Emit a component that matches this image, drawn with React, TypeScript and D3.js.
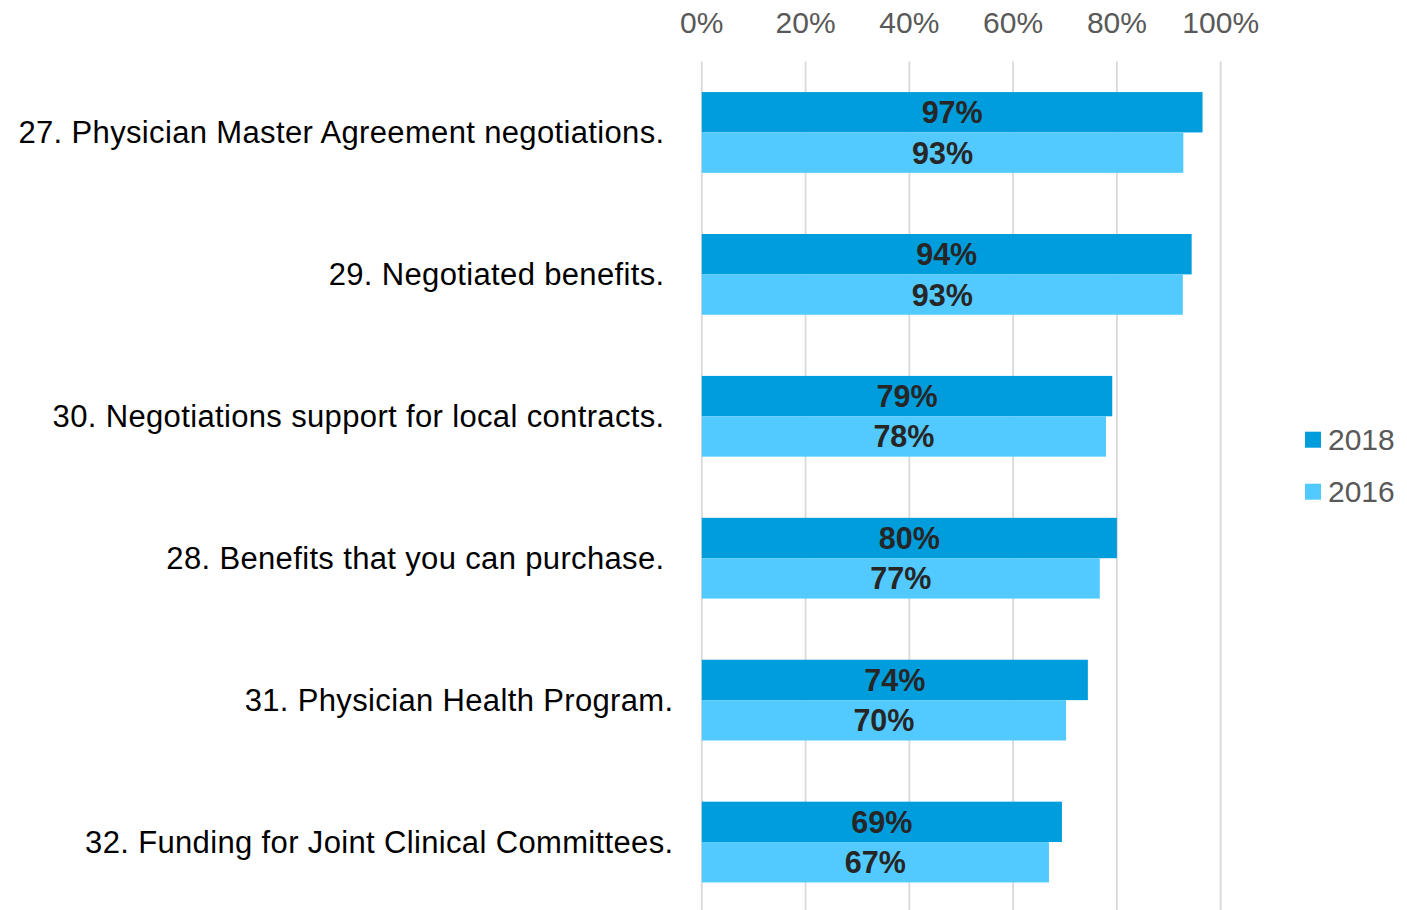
import React from "react";
import * as d3 from "d3";

// ---- data ----
const categories: string[] = [
  "27. Physician Master Agreement negotiations. ",
  "29. Negotiated benefits. ",
  "30. Negotiations support for local contracts. ",
  "28. Benefits that you can purchase. ",
  "31. Physician Health Program.",
  "32. Funding for Joint Clinical Committees.",
];
const seriesNames: string[] = ["2018", "2016"];
const values2018: number[] = [0.965, 0.944, 0.791, 0.8, 0.744, 0.694];
const values2016: number[] = [0.928, 0.927, 0.779, 0.767, 0.702, 0.669];
const xTicks: number[] = [0, 0.2, 0.4, 0.6, 0.8, 1.0];

const seriesColors: Record<string, string> = { "2018": "#009DDC", "2016": "#52CAFF" };

const W = 1407;
const H = 910;
const plotLeft = 701.8;
const plotRight = 1220.7;
const plotTop = 61.5;
const plotBottom = 913;

export default function App() {
  const x = d3.scaleLinear().domain([0, 1]).range([plotLeft, plotRight]);
  const y = d3
    .scaleBand<string>()
    .domain(categories)
    .range([plotTop, plotBottom])
    .paddingInner(0.431)
    .paddingOuter(0.2155);
  const ySub = d3.scaleBand<string>().domain(seriesNames).range([0, y.bandwidth()]);
  const seriesValues: Record<string, number[]> = { "2018": values2018, "2016": values2016 };
  const fmt = d3.format(".0%");
  const font = "'Liberation Sans', Arial, sans-serif";

  return (
    <svg
      width={W}
      height={H}
      style={{ position: "absolute", left: 0, top: 0, background: "#fff" }}
      fontFamily={font}
    >
      {/* gridlines */}
      {xTicks.map((t) => (
        <line
          key={"g" + t}
          x1={x(t)}
          x2={x(t)}
          y1={plotTop}
          y2={plotBottom}
          stroke="#D9D9D9"
          strokeWidth={1.8}
        />
      ))}
      {/* tick labels */}
      {xTicks.map((t) => (
        <text
          key={"t" + t}
          x={x(t)}
          y={33.3}
          textAnchor="middle"
          fontSize={30}
          fill="#595959"
        >
          {fmt(t)}
        </text>
      ))}
      {/* bars */}
      {categories.map((c, i) => (
        <g key={c} transform={`translate(0,${y(c)})`}>
          {seriesNames.map((s) => {
            const v = seriesValues[s][i];
            const by = ySub(s)!;
            const bh = ySub.bandwidth();
            return (
              <g key={s}>
                <rect
                  x={x(0)}
                  y={by}
                  width={x(v) - x(0)}
                  height={bh}
                  fill={seriesColors[s]}
                />
                <text
                  x={(x(0) + x(v)) / 2}
                  y={by + bh / 2}
                  dy="0.36em"
                  textAnchor="middle"
                  fontSize={30.5}
                  fontWeight="bold"
                  fill="#262626"
                >
                  {fmt(Math.round(v * 100) / 100)}
                </text>
              </g>
            );
          })}
        </g>
      ))}
      {/* category labels */}
      {categories.map((c) => (
        <text
          key={"c" + c}
          x={673.5}
          y={y(c)! + y.bandwidth() / 2}
          dy="0.34em"
          textAnchor="end"
          fontSize={31}
          letterSpacing={0.35}
          fill="#000"
          style={{ whiteSpace: "pre" }}
        >
          {c}
        </text>
      ))}
      {/* legend */}
      {seriesNames.map((s, i) => (
        <g key={"l" + s} transform={`translate(1305,${431.7 + i * 52})`}>
          <rect x={0} y={0} width={16} height={16} fill={seriesColors[s]} />
          <text x={23} y={18.3} fontSize={30} fill="#595959">
            {s}
          </text>
        </g>
      ))}
    </svg>
  );
}
